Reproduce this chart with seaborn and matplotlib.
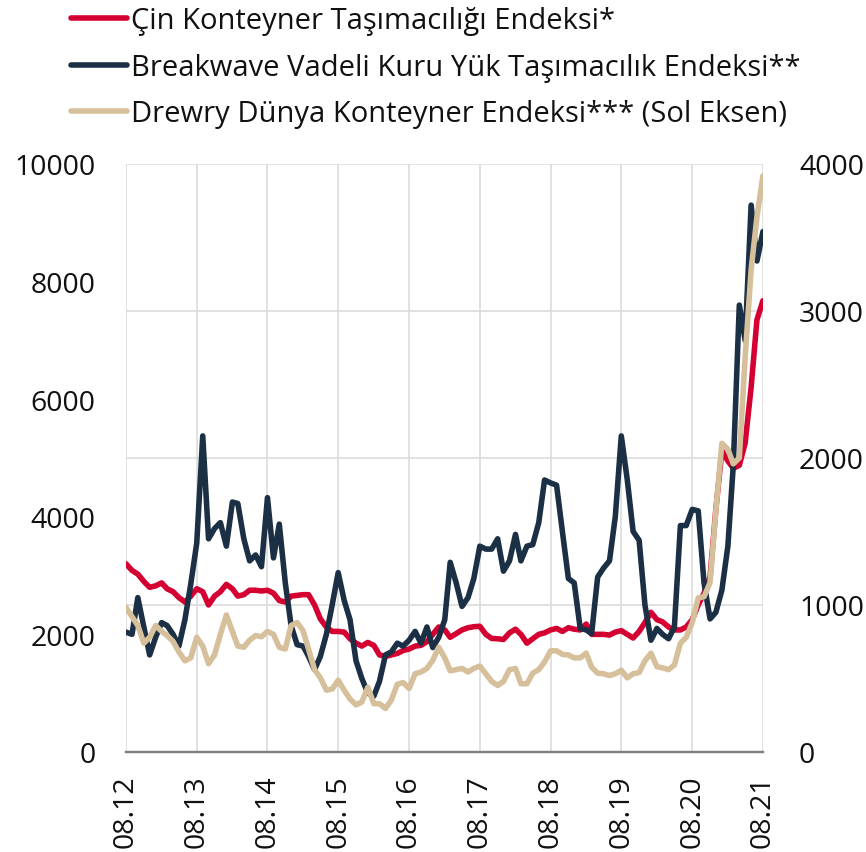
import pandas as pd
import numpy as np
import matplotlib.pyplot as plt
import matplotlib.dates as mdates
from matplotlib.lines import Line2D
import seaborn as sns

# ── data (monthly, 08.2012 - 08.2021) ──────────────────────────────────────
months = pd.date_range('2012-08-01', '2021-08-01', freq='MS')

# Çin Konteyner Taşımacılığı Endeksi (right axis)
ccfi = [1280, 1235, 1210, 1160, 1120, 1130, 1150, 1110, 1090, 1050, 1020, 1060,
        1110, 1090, 1000, 1060, 1090, 1140, 1110, 1060, 1070, 1100, 1100, 1095,
        1100, 1080, 1030, 1020, 1060, 1065, 1070, 1070, 1000, 905, 850, 820,
        820, 815, 770, 740, 720, 745, 725, 660, 650, 660, 670, 690,
        700, 720, 725, 750, 800, 850, 830, 780, 805, 830, 845, 852,
        855, 800, 772, 770, 765, 810, 835, 800, 740, 770, 800, 810,
        830, 840, 820, 845, 835, 830, 870, 800, 800, 800, 795, 815,
        825, 800, 775, 820, 880, 950, 900, 885, 850, 830, 830, 850,
        900, 1000, 1080, 1190, 1650, 2050, 1980, 1930, 1950, 2100, 2480, 2940, 3070]

# Breakwave Vadeli Kuru Yük Taşımacılık Endeksi (right axis)
breakwave = [815, 800, 1050, 850, 660, 780, 880, 860, 800, 720, 900, 1140,
             1420, 2150, 1450, 1520, 1560, 1400, 1700, 1690, 1450, 1300, 1340, 1260,
             1730, 1320, 1550, 1150, 860, 730, 720, 650, 560, 650, 800, 1000,
             1220, 1030, 900, 620, 500, 400, 380, 480, 660, 680, 740, 720,
             760, 820, 740, 850, 710, 780, 900, 1290, 1150, 990, 1050, 1180,
             1400, 1380, 1380, 1450, 1230, 1300, 1480, 1300, 1400, 1410, 1560, 1850,
             1830, 1815, 1500, 1180, 1150, 840, 830, 805, 1190, 1250, 1300, 1600,
             2150, 1850, 1500, 1440, 1000, 760, 840, 800, 770, 850, 1540, 1540,
             1650, 1640, 1150, 905, 950, 1100, 1400, 1950, 3040, 2800, 3720, 3340, 3540]

# Drewry Dünya Konteyner Endeksi (left axis)
drewry = [2460, 2300, 2150, 1850, 1950, 2150, 2050, 1980, 1880, 1700, 1550, 1600,
          1950, 1800, 1500, 1650, 2000, 2330, 2050, 1800, 1780, 1900, 1980, 1960,
          2050, 2000, 1780, 1750, 2150, 2200, 2060, 1750, 1400, 1260, 1050, 1070,
          1220, 1050, 900, 800, 850, 1100, 820, 820, 740, 880, 1150, 1180,
          1080, 1330, 1360, 1420, 1560, 1780, 1600, 1380, 1400, 1420, 1360, 1420,
          1460, 1330, 1200, 1130, 1200, 1400, 1420, 1160, 1160, 1340, 1400, 1530,
          1720, 1720, 1660, 1650, 1600, 1600, 1680, 1440, 1340, 1330, 1300, 1330,
          1390, 1260, 1330, 1350, 1550, 1680, 1450, 1430, 1400, 1480, 1850, 1950,
          2200, 2620, 2640, 2880, 4100, 5250, 5150, 4900, 5000, 6700, 8200, 9100, 9800]

labels = ['Çin Konteyner Taşımacılığı Endeksi*',
          'Breakwave Vadeli Kuru Yük Taşımacılık Endeksi**',
          'Drewry Dünya Konteyner Endeksi*** (Sol Eksen)']
colors = ['#D50032', '#1B3045', '#D6C09B']

df = pd.DataFrame({'date': months, 'ccfi': ccfi, 'breakwave': breakwave, 'drewry': drewry})

# ── style ─────────────────────────────────────────────────────────────────
sns.set_theme(style='white')
plt.rcParams.update({
    'font.family': ['Open Sans', 'DejaVu Sans'],
    'font.size': 20,
    'text.color': '#111111',
    'xtick.color': '#111111',
    'ytick.color': '#111111',
})
LW = 4.0
FS = 20.5

fig = plt.figure(figsize=(8.66, 8.53), dpi=100)
ax = fig.add_axes([0.1455, 0.1173, 0.7355, 0.6893])
ax2 = ax.twinx()

# right axis series
sns.lineplot(data=df, x='date', y='ccfi', ax=ax2, color=colors[0], lw=LW)
sns.lineplot(data=df, x='date', y='breakwave', ax=ax2, color=colors[1], lw=LW)
# left axis series (drawn on top)
sns.lineplot(data=df, x='date', y='drewry', ax=ax, color=colors[2], lw=LW)
ax.set_zorder(ax2.get_zorder() + 1)
ax.patch.set_visible(False)

ax.set_xlim(months[0], months[-1])
ax.set_ylim(0, 10000)
ax2.set_ylim(0, 4000)
ax.set_yticks(np.arange(0, 10001, 2000))
ax2.set_yticks(np.arange(0, 4001, 1000))

xt = pd.date_range('2012-08-01', '2021-08-01', freq='12MS')
ax.set_xticks(xt)
ax.xaxis.set_major_formatter(mdates.DateFormatter('%m.%y'))
ax.tick_params(axis='x', rotation=90, labelsize=FS, length=0, pad=16)
ax.tick_params(axis='y', labelsize=FS, length=0, pad=22)
ax2.tick_params(axis='y', labelsize=FS, length=0, pad=26)

ax.set_xlabel('')
ax.set_ylabel('')
ax2.set_ylabel('')

# grid: vertical at year ticks, horizontal at right ticks
for t in xt:
    ax2.axvline(t, color='#dcdcdc', lw=1.2, zorder=0)
ax2.yaxis.grid(True, color='#dcdcdc', lw=1.2)
ax.grid(False)
ax2.set_axisbelow(True)

for a in (ax, ax2):
    for s in ['top', 'left', 'right']:
        a.spines[s].set_visible(False)
    a.spines['bottom'].set_color('#808080')
    a.spines['bottom'].set_linewidth(1.6)

handles = [Line2D([], [], color=c, lw=LW, solid_capstyle='round') for c in colors]
fig.legend(handles, labels, loc='upper left', bbox_to_anchor=(0.069, 1.005),
           frameon=False, fontsize=21, handlelength=1.9, handletextpad=0.15,
           labelspacing=0.6, borderaxespad=0)

plt.savefig('out.png', dpi=100)
